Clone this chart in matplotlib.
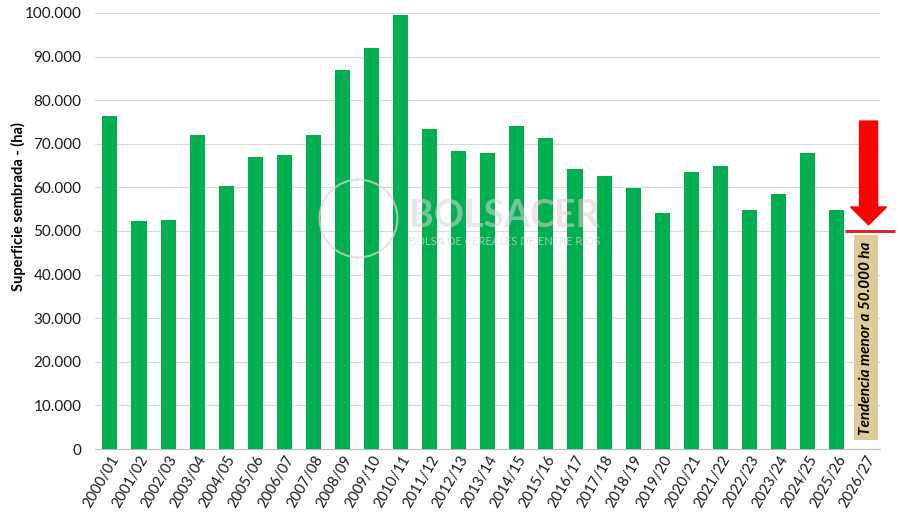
import matplotlib
matplotlib.use("Agg")
import matplotlib.pyplot as plt
from matplotlib.patches import FancyArrow, Rectangle
from matplotlib.ticker import FuncFormatter, MultipleLocator

plt.rcParams["font.family"] = ["Lato", "DejaVu Sans"]

campaigns = ["2000/01", "2001/02", "2002/03", "2003/04", "2004/05", "2005/06",
             "2006/07", "2007/08", "2008/09", "2009/10", "2010/11", "2011/12",
             "2012/13", "2013/14", "2014/15", "2015/16", "2016/17", "2017/18",
             "2018/19", "2019/20", "2020/21", "2021/22", "2022/23", "2023/24",
             "2024/25", "2025/26", "2026/27"]
area_ha = [76400, 52300, 52500, 72000, 60300, 67000, 67400, 72000, 86900,
           92000, 99500, 73400, 68300, 67900, 74100, 71300, 64200, 62600,
           59900, 54100, 63500, 64900, 54800, 58500, 67900, 54800]
trend_text = "Tendencia menor a 50.000 ha"
trend_level = 50000
arrow_top = 75200

BAR = "#00b050"
TAN = "#dfcb97"

fig = plt.figure(figsize=(9, 5.18), dpi=100)
ax = fig.add_axes([0.106, 0.1332, 0.872, 0.8418])

x = list(range(len(area_ha)))
ax.bar(x, area_ha, width=0.52, color=BAR, zorder=3)

ax.set_xlim(-0.5, len(campaigns) - 0.5)
ax.set_ylim(0, 100000)
ax.yaxis.set_major_locator(MultipleLocator(10000))
ax.yaxis.set_major_formatter(FuncFormatter(lambda v, p: f"{int(v):,}".replace(",", ".")))
ax.grid(axis="y", color="#d9d9d9", linewidth=0.8, zorder=0)
ax.set_axisbelow(True)
for s in ["top", "right", "left"]:
    ax.spines[s].set_visible(False)
ax.spines["bottom"].set_color("#bfbfbf")
ax.tick_params(axis="both", length=0, colors="#1a1a1a", labelsize=11)
ax.tick_params(axis="y", pad=10)
ax.tick_params(axis="x", pad=3)
ax.set_xticks(range(len(campaigns)))
ax.set_xticklabels(campaigns, rotation=60, ha="right", rotation_mode="anchor", fontsize=10.5)
ax.set_ylabel("Superficie sembrada - (ha)", fontsize=10.5, fontweight="bold")
ax.yaxis.set_label_coords(-0.089, 0.555)

# watermark
ax.plot([8.55], [53000], marker="o", markersize=56, markerfacecolor="none",
        markeredgecolor="#ecd2d2", markeredgewidth=1.5, alpha=0.7, zorder=4)
ax.text(10.3, 53500, "BOLSA", fontsize=27, fontweight="bold", color="#d6d6d6",
        alpha=0.55, va="center", ha="left", zorder=4)
ax.text(14.45, 53500, "CER", fontsize=27, fontweight="bold", color="#ecc9c9",
        alpha=0.55, va="center", ha="left", zorder=4)
ax.text(10.3, 47600, "BOLSA DE CEREALES DE ENTRE RÍOS", fontsize=8, color="#dcdcdc",
        alpha=0.7, va="center", ha="left", zorder=4)

# annotation box for 2026/27
idx = len(campaigns) - 1
ax.add_patch(Rectangle((idx - 0.41, 2000), 0.82, trend_level - 3000, facecolor=TAN,
                       edgecolor="none", zorder=3))
ax.text(idx, (2000 + trend_level - 1000) / 2, trend_text, rotation=90, ha="center",
        va="center", fontsize=11, fontweight="bold", fontstyle="italic", zorder=5)

# red line
ax.plot([idx - 0.72, idx + 1.0], [trend_level, trend_level], color="#d9262b",
        linewidth=2.2, clip_on=False, zorder=5, solid_capstyle="butt")

# arrow
ax.add_patch(FancyArrow(idx + 0.1, arrow_top, 0, -(arrow_top - 51400), width=0.62,
                        head_width=1.24, head_length=4100, length_includes_head=True,
                        color="#ff0000", zorder=6, clip_on=False))

fig.savefig("out.png", dpi=100)
